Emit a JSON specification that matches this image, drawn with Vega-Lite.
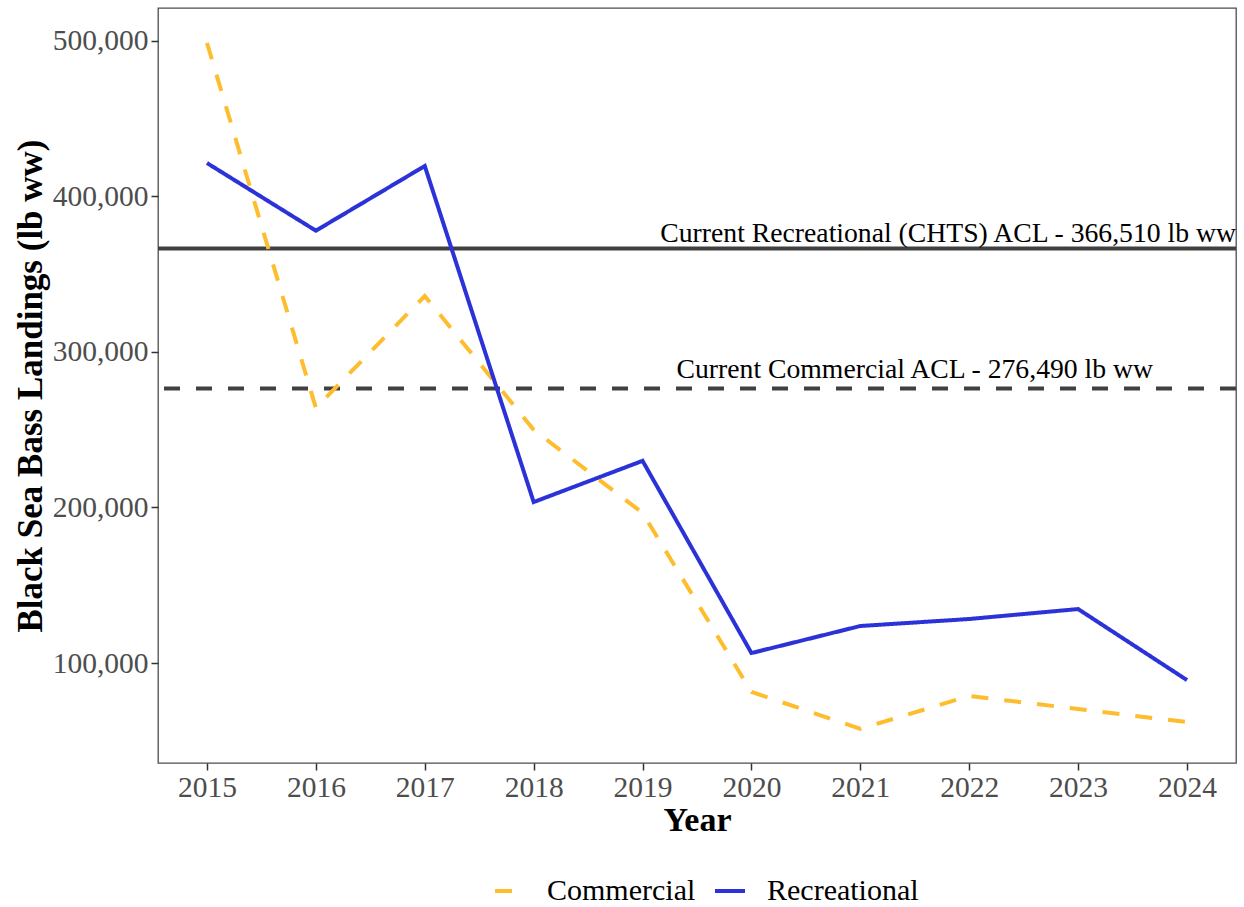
{
  "$schema": "https://vega.github.io/schema/vega-lite/v6.json",
  "autosize": "none",
  "width": 1078,
  "height": 755,
  "padding": {"left": 158, "top": 8, "right": 8, "bottom": 144},
  "background": "white",
  "config": {
    "font": "Liberation Serif",
    "view": {"stroke": "#4d4d4d", "strokeWidth": 1.3},
    "axis": {"grid": false, "domain": false, "tickColor": "#333333", "tickWidth": 1.5, "tickSize": 7, "labelColor": "#4d4d4d", "labelFontSize": 29.5, "labelFont": "Liberation Serif", "titleFont": "Liberation Serif", "titleFontSize": 34, "titleFontWeight": "bold", "titleColor": "black"}
  },
  "datasets": {
    "landings": [
      {"year": 2015, "sector": "Commercial", "landings": 498700},
      {"year": 2016, "sector": "Commercial", "landings": 264000},
      {"year": 2017, "sector": "Commercial", "landings": 336000},
      {"year": 2018, "sector": "Commercial", "landings": 250000},
      {"year": 2019, "sector": "Commercial", "landings": 196500},
      {"year": 2020, "sector": "Commercial", "landings": 81400},
      {"year": 2021, "sector": "Commercial", "landings": 57700},
      {"year": 2022, "sector": "Commercial", "landings": 78800},
      {"year": 2023, "sector": "Commercial", "landings": 70400},
      {"year": 2024, "sector": "Commercial", "landings": 62000},
      {"year": 2015, "sector": "Recreational", "landings": 421500},
      {"year": 2016, "sector": "Recreational", "landings": 378000},
      {"year": 2017, "sector": "Recreational", "landings": 419600},
      {"year": 2018, "sector": "Recreational", "landings": 203500},
      {"year": 2019, "sector": "Recreational", "landings": 230000},
      {"year": 2020, "sector": "Recreational", "landings": 106400},
      {"year": 2021, "sector": "Recreational", "landings": 123800},
      {"year": 2022, "sector": "Recreational", "landings": 128300},
      {"year": 2023, "sector": "Recreational", "landings": 134700},
      {"year": 2024, "sector": "Recreational", "landings": 89000}
    ],
    "acl": [
      {"name": "Recreational", "acl": 366510, "labelYear": 2024.45, "label": "Current Recreational (CHTS) ACL - 366,510 lb ww"},
      {"name": "Commercial", "acl": 276490, "labelYear": 2021.5, "label": "Current Commercial ACL - 276,490 lb ww"}
    ]
  },
  "layer": [
    {
      "data": {"name": "acl"},
      "transform": [{"filter": "datum.name === 'Recreational'"}],
      "mark": {"type": "rule", "color": "#404040", "strokeWidth": 4},
      "encoding": {"y": {"field": "acl", "type": "quantitative", "scale": {"domain": [35700, 521200], "nice": false, "zero": false}}}
    },
    {
      "data": {"name": "acl"},
      "transform": [{"filter": "datum.name === 'Commercial'"}],
      "mark": {"type": "rule", "color": "#404040", "strokeWidth": 4, "strokeDash": [16, 16]},
      "encoding": {"y": {"field": "acl", "type": "quantitative"}}
    },
    {
      "data": {"name": "acl"},
      "transform": [{"filter": "datum.name === 'Recreational'"}],
      "mark": {"type": "text", "align": "right", "baseline": "alphabetic", "dy": -7, "fontSize": 27.7, "font": "Liberation Serif", "color": "black"},
      "encoding": {
        "x": {"field": "labelYear", "type": "quantitative"},
        "y": {"field": "acl", "type": "quantitative"},
        "text": {"field": "label"}
      }
    },
    {
      "data": {"name": "acl"},
      "transform": [{"filter": "datum.name === 'Commercial'"}],
      "mark": {"type": "text", "align": "center", "baseline": "alphabetic", "dy": -11, "fontSize": 27.7, "font": "Liberation Serif", "color": "black"},
      "encoding": {
        "x": {"field": "labelYear", "type": "quantitative"},
        "y": {"field": "acl", "type": "quantitative"},
        "text": {"field": "label"}
      }
    },
    {
      "data": {"name": "landings"},
      "mark": {"type": "line", "strokeWidth": 4},
      "encoding": {
        "x": {"field": "year", "type": "quantitative", "title": "Year",
              "scale": {"domain": [2014.55, 2024.45], "nice": false, "zero": false},
              "axis": {"values": [2015, 2016, 2017, 2018, 2019, 2020, 2021, 2022, 2023, 2024], "format": "d", "labelPadding": 3, "titlePadding": 2}},
        "y": {"field": "landings", "type": "quantitative", "title": "Black Sea Bass Landings (lb ww)",
              "axis": {"values": [100000, 200000, 300000, 400000, 500000], "format": ",d", "labelPadding": 3, "titlePadding": 4, "titleFontSize": 35}},
        "color": {"field": "sector", "type": "nominal", "title": null,
                  "scale": {"domain": ["Commercial", "Recreational"], "range": ["#FDBD2C", "#2A32D8"]},
                  "legend": {"orient": "none", "legendX": 335, "legendY": 866, "direction": "horizontal", "symbolType": "stroke", "symbolSize": 900, "symbolStrokeWidth": 4, "labelFontSize": 30, "labelFont": "Liberation Serif", "labelColor": "black", "labelOffset": 20, "columnPadding": 11}},
        "strokeDash": {"field": "sector", "type": "nominal", "title": null,
                       "scale": {"domain": ["Commercial", "Recreational"], "range": [[17, 16], [1, 0]]}}
      }
    }
  ]
}
